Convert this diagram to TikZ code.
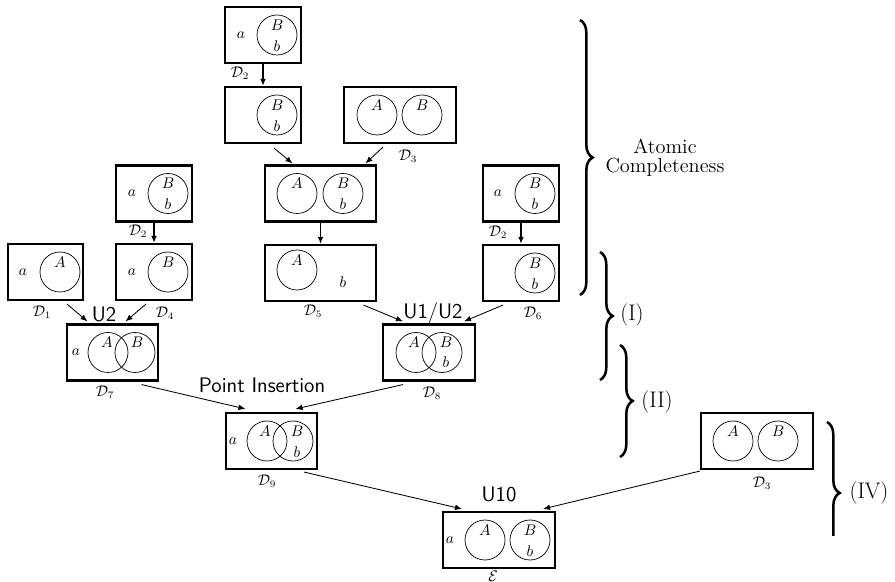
\documentclass[tikz,border=0pt]{standalone}
\usetikzlibrary{calc, positioning, arrows.meta, decorations.pathreplacing}

\begin{document}
\begin{tikzpicture}[
    x=0.025cm, y=-0.025cm,
    panel/.style={draw, line width=1.5pt, minimum height=56*0.025cm, inner sep=0pt},
    region/.style={draw, circle, line width=0.5pt, minimum size=40*0.025cm, inner sep=0pt},
    elem/.style={font=\fontsize{10.5}{12}\selectfont, inner sep=0pt},
    tag/.style={font=\fontsize{10.5}{12}\selectfont, inner sep=0pt},
    rulefont/.style={font=\sffamily\fontsize{15}{18}\selectfont, inner sep=0pt},
    atomicfont/.style={font=\fontsize{14.5}{13.5}\selectfont},
    groupfont/.style={font=\fontsize{16}{19}\selectfont, inner sep=0pt},
    pushdown/.style={line width=1.1pt, -{Latex[length=5pt, width=4pt]}},
    joinarrow/.style={line width=0.6pt, -{Latex[length=5pt, width=4pt]}},
    bracket/.style={decorate, decoration={brace, amplitude=9pt}, line width=1.8pt}
]
\def\px{0.025cm}
\useasboundingbox (0,0) rectangle (895,582);

% Diagram boxes
\foreach \n/\x/\y/\w in {d2a/263/35/76, d2b/263/115/76, d3a/400/115/112,
        d35/320.5/193.5/111, d5/320.5/273/111, d2c/154/193.5/76, d1/45.5/272/75,
        d4/154/272/76, d2d/521/193.5/76, d6/521/273/76, d7/112.5/352.5/91,
        d8/429/352.5/92, d9/271.5/441/91, e/499/540/112, d3b/757/441/112}
    \node[panel, minimum width=\w*\px] (\n) at (\x,\y) {};

% Curves
\foreach \n/\x/\y in {c2a/277/35, c2b/277/115, c3aA/377/115, c3aB/422/115,
        c35A/297/193.5, c35B/343/193.5, c5A/297/270, c2cB/168/193.5, c1A/60/272,
        c4B/168/272, c2dB/535/193.5, c6B/535/273, c7A/108/352.5, c7B/135/352.5,
        c8A/416/352.5, c8B/442/352.5, c9A/267/441, c9B/293/441,
        ceA/485/540, ceB/530/540, c3bA/733/441, c3bB/778/441}
    \node[region] (\n) at (\x,\y) {};

% Curve labels and points
\foreach \c/\dx/\dy/\t in {c2a/0/-10/B, c2a/0/11/b, c2b/0/-10/B, c2b/0/11/b,
        c3aA/0/-10/A, c3aB/0/-10/B, c35A/0/-10/A, c35B/0/-10/B, c35B/0/11/b,
        c5A/0/-10/A, c2cB/0/-10/B, c2cB/0/11/b, c1A/0/-10/A, c4B/0/-10/B,
        c2dB/0/-10/B, c2dB/0/11/b, c6B/0/-10/B, c6B/0/11/b,
        c7A/-1/-10/A, c7B/2/-10/B, c8A/-2/-10/A, c8B/4/-10/B, c8B/4/10/b,
        c9A/-2/-10/A, c9B/4/-10/B, c9B/4/11/b,
        ceA/0/-10/A, ceB/0/-10/B, ceB/0/11/b, c3bA/0/-10/A, c3bB/0/-10/B}
    \node[elem] (\c-\t) at ($(\c)+(\dx,\dy)$) {$\t$};
\node[elem] (d5-b) at ($(d5)+(22.5,9)$) {$b$};

\foreach \b/\dx in {d2a/17, d2c/17, d1/16, d4/17, d2d/16, d7/10, d9/8, e/8}
    \node[elem] (\b-a) at ($(\b.west)+(\dx,0)$) {$a$};

% Diagram names
\foreach \b/\dx/\dy/\k in {d2a/-23/9/2, d3a/8/12/3, d2c/-16/9/2, d1/-3.5/11/1,
        d4/11/12/4, d5/-7.5/9/5, d2d/-23/10/2, d6/12/11/6, d7/-7.5/11/7,
        d8/3/12/8, d9/-4.5/11/9, d3b/5/13/3}
    \node[tag] (\b-tag) at ($(\b.south)+(\dx,\dy)$) {$\mathcal{D}_{\k}$};
\node[tag] (e-tag) at ($(e.south)+(-6,7)$) {$\mathcal{E}$};

% Rule names
\node[rulefont] (u2) at (104,314) {U2};
\node[rulefont] (u12) at (433,313) {U1/U2};
\node[rulefont] (pins) at (262,385) {Point Insertion};
\node[rulefont] (u10) at (499,494) {U10};

% Steps
\draw[pushdown] (d2a) -- (d2b);
\draw[pushdown] (d2c) -- (d4);
\draw[pushdown] (d2d) -- (d6);
\draw[pushdown] (d35) -- (d5);

\draw[joinarrow] ($(d2b.south)+(11,4)$) -- ($(d35.north)+(-28,-1)$);
\draw[joinarrow] ($(d3a.south)+(-17,3)$) -- ($(d35.north)+(45,-1)$);
\draw[joinarrow] ($(d1.south)+(21.5,3)$) -- ($(d7.north)+(-25,-2)$);
\draw[joinarrow] ($(d4.south)+(-8,3)$) -- ($(d7.north)+(13,-2)$);
\draw[joinarrow] ($(d5.south)+(43,3)$) -- ($(d8.north)+(-26,-2)$);
\draw[joinarrow] ($(d6.south)+(-18,3)$) -- ($(d8.north)+(35,-2)$);
\draw[joinarrow] ($(d7.south)+(29,3)$) -- ($(d9.north)+(-26,-3)$);
\draw[joinarrow] ($(d8.south)+(-26,3)$) -- ($(d9.north)+(24,-3)$);
\draw[joinarrow] ($(d9.south)+(32.5,2)$) -- ($(e.north)+(-37,-2)$);
\draw[joinarrow] ($(d3b.south west)+(0,1)$) -- ($(e.north)+(44,-2)$);

% Phases
\draw[bracket] (580,20) -- (580,295);
\node[atomicfont, align=center] (atomic) at (665,158) {Atomic\\Completeness};
\draw[bracket] (600,252) -- (600,380);
\node[groupfont] (g1) at (632,315) {(I)};
\draw[bracket] (620,345) -- (620,457);
\node[groupfont] (g2) at (657,402) {(II)};
\begin{scope}
    \clip (800,400) rectangle (895,536);
    \draw[bracket] (827,422) -- (827,564);
\end{scope}
\node[groupfont] (g4) at (869,493) {(IV)};

\end{tikzpicture}
\end{document}
